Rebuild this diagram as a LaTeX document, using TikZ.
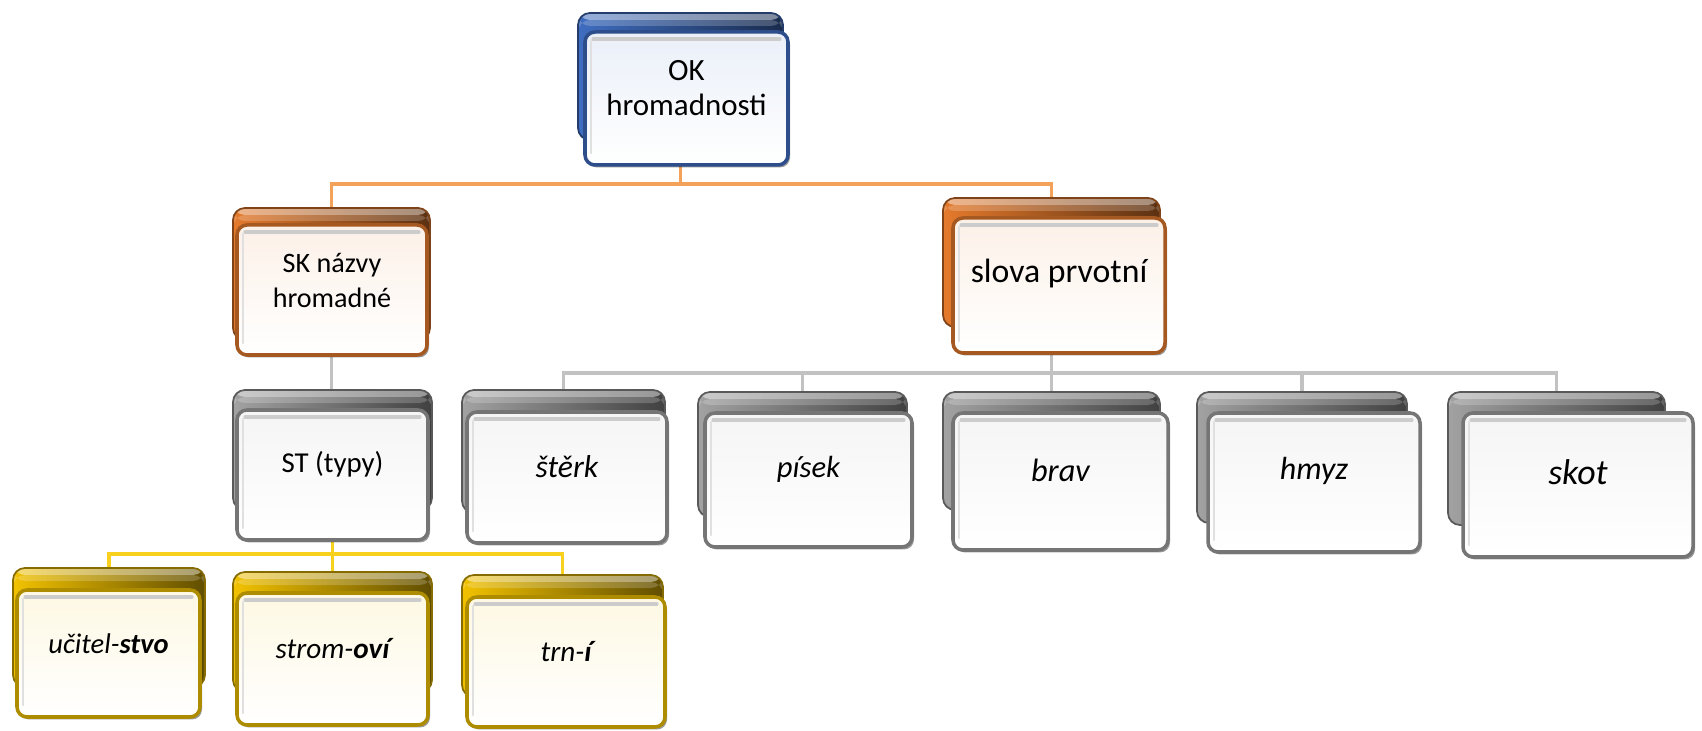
\documentclass[tikz,border=0pt]{standalone}
\usepackage{fontspec}
\setmainfont{Carlito}
\usetikzlibrary{fit,shadows}
\pgfdeclarelayer{bg}
\pgfsetlayers{bg,main}
\definecolor{bBlue}{HTML}{3F6DC0}
\definecolor{bOrange}{HTML}{E57A2C}
\definecolor{bGray}{HTML}{A2A2A2}
\definecolor{bGold}{HTML}{F2C200}
\definecolor{lnOrange}{HTML}{F4A15A}
\definecolor{lnGray}{HTML}{C2C2C2}
\definecolor{lnGold}{HTML}{F7D11E}
\newcommand\fsz[1]{\fontsize{#1}{10}\selectfont}
\tikzset{
  backbox/.style={inner sep=0pt, rounded corners=0.12cm, draw=#1!55!black, line width=0.5pt,
    left color=#1, middle color=#1, right color=#1!40!black,
    path picture={
      \fill[white,opacity=0.45] (path picture bounding box.north west) rectangle ([yshift=-0.07cm]path picture bounding box.north east);
      \fill[white,opacity=0.2] ([yshift=-0.07cm]path picture bounding box.north west) rectangle ([yshift=-0.13cm]path picture bounding box.north east);
    }},
  frontbox/.style={inner sep=0pt, rounded corners=0.1cm, draw=#1!72!black, line width=1pt,
    top color=#1!11!white, middle color=#1!8!white, bottom color=white,
    drop shadow={shadow xshift=0.02cm, shadow yshift=-0.025cm, opacity=0.4, fill=black},
    align=center, text=black,
    path picture={
      \draw[black!20, line width=0.9pt, line cap=round] ([shift={(0.08cm,-0.07cm)}]path picture bounding box.north west) -- ([shift={(-0.08cm,-0.07cm)}]path picture bounding box.north east);
      \draw[black!12, line width=0.7pt, line cap=round] ([shift={(0.06cm,-0.09cm)}]path picture bounding box.north west) -- ([shift={(0.06cm,0.12cm)}]path picture bounding box.south west);
    }},
  oline/.style={draw=lnOrange, line width=1pt},
  gline/.style={draw=lnGray, line width=1pt},
  yline/.style={draw=lnGold, line width=1pt},
}
\begin{document}
\begin{tikzpicture}[x=0.01cm, y=-0.01cm]
\useasboundingbox (0,0) rectangle (1702,731);
% level 0
\node[backbox=bBlue, fit={(578,13) (783,140)}] (okB) {};
\node[frontbox=bBlue, fit={(585,32) (788,165)}, font=\fsz{8.8}] (ok) {OK\\hromadnosti};
% level 1
\node[backbox=bOrange, fit={(233,208) (430,340)}] (skB) {};
\node[frontbox=bOrange, fit={(237,225) (427,355)}, font=\fsz{8.0}] (sk) {SK názvy\\hromadné};
\node[backbox=bOrange, fit={(943,198) (1160,327)}] (slB) {};
\node[frontbox=bOrange, fit={(953,218) (1165,353)}, font=\fsz{9.6}] (sl) {slova prvotní};
% level 2
\node[backbox=bGray, fit={(233,390) (432,510)}] (stB) {};
\node[frontbox=bGray, fit={(237,410) (428,540)}, font=\fsz{8.2}] (st) {ST (typy)};
\node[backbox=bGray, fit={(462,390) (665,513)}] (s1B) {};
\node[frontbox=bGray, fit={(467,412) (667,543)}, font=\fsz{9.0}\itshape] (s1) {štěrk};
\node[backbox=bGray, fit={(698,392) (907,517)}] (s2B) {};
\node[frontbox=bGray, fit={(705,413) (912,547)}, font=\fsz{8.7}\itshape] (s2) {písek};
\node[backbox=bGray, fit={(943,392) (1160,510)}] (s3B) {};
\node[frontbox=bGray, fit={(953,413) (1168,550)}, font=\fsz{9.2}\itshape] (s3) {brav};
\node[backbox=bGray, fit={(1197,392) (1407,523)}] (s4B) {};
\node[frontbox=bGray, fit={(1208,413) (1420,552)}, font=\fsz{9.1}\itshape] (s4) {hmyz};
\node[backbox=bGray, fit={(1448,392) (1665,525)}] (s5B) {};
\node[frontbox=bGray, fit={(1463,413) (1693,557)}, font=\fsz{10.2}\itshape] (s5) {skot};
% level 3
\node[backbox=bGold, fit={(13,568) (205,687)}] (y1B) {};
\node[frontbox=bGold, fit={(17,590) (200,717)}, font=\fsz{8.1}\itshape] (y1) {učitel-\textbf{stvo}};
\node[backbox=bGold, fit={(233,572) (432,692)}] (y2B) {};
\node[frontbox=bGold, fit={(237,593) (428,725)}, font=\fsz{8.3}\itshape] (y2) {strom-\textbf{oví}};
\node[backbox=bGold, fit={(462,575) (663,697)}] (y3B) {};
\node[frontbox=bGold, fit={(467,597) (665,727)}, font=\fsz{8.3}\itshape] (y3) {trn-\textbf{í}};
% connectors
\begin{pgfonlayer}{bg}
\fill[white] (0,0) rectangle (1702,731);
\draw[oline] (okB.south) -- ++(0,43) -| (skB.north);
\draw[oline] (okB.south) -- ++(0,43) -| (slB.north);
\draw[gline] (skB.south) -- (skB.south |- stB.north);
\foreach \n in {s1B,s2B,s3B,s4B,s5B}
  \draw[gline] (slB.south) -- ++(0,45) -| (\n.north);
\foreach \n in {y1B,y2B,y3B}
  \draw[yline] (stB.south) -- ++(0,43) -| (\n.north);
\end{pgfonlayer}
\end{tikzpicture}
\end{document}
